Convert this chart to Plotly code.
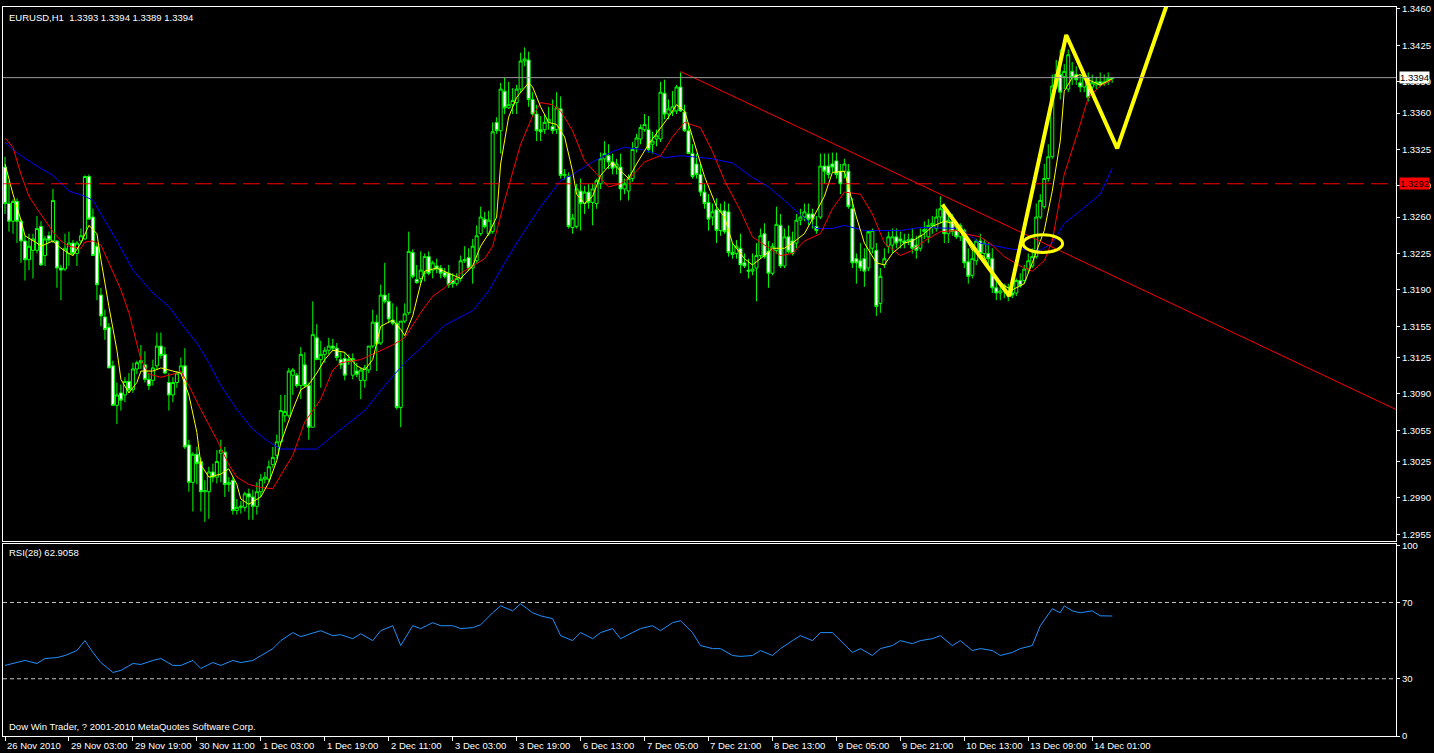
import plotly.graph_objects as go

# ---------------- data ----------------
symbol_title = "EURUSD,H1  1.3393 1.3394 1.3389 1.3394"
rsi_title = "RSI(28) 62.9058"
copyright_text = "Dow Win Trader, ? 2001-2010 MetaQuotes Software Corp."

# hourly candles, prices in points (1/10000)
open_pts = [
13308,13273,13256,13275,13256,13237,13219,13228,13228,13251,
13223,13242,13237,13237,13211,13210,13225,13235,13225,13237,
13239,13299,13260,13232,13185,13164,13154,13117,13079,13091,
13089,13102,13094,13114,13120,13118,13104,13103,13117,13136,
13128,13101,13089,13101,13110,13117,13041,13005,13032,13025,
12996,12996,13015,13010,13033,13034,13003,13007,12978,12981,
12981,12994,12991,12982,12996,13008,13008,13022,13031,13044,
13069,13069,13108,13108,13098,13118,13098,13058,13144,13123,
13128,13132,13136,13134,13123,13124,13123,13108,13112,13103,
13103,13113,13136,13159,13139,13185,13179,13161,13158,13077,
13160,13168,13226,13200,13201,13206,13222,13209,13213,13211,
13207,13206,13199,13196,13201,13218,13221,13211,13218,13244,
13258,13244,13246,13351,13343,13381,13365,13368,13370,13383,
13410,13411,13373,13359,13344,13344,13351,13347,13344,13364,
13300,13299,13250,13251,13285,13273,13284,13274,13273,13292,
13316,13319,13313,13308,13308,13287,13285,13297,13327,13335,
13344,13344,13330,13335,13335,13379,13359,13361,13362,13385,
13361,13343,13321,13311,13301,13284,13274,13260,13267,13247,
13266,13265,13226,13225,13230,13216,13209,13208,13211,13223,
13244,13227,13206,13228,13252,13213,13241,13237,13235,13257,
13260,13263,13263,13251,13260,13309,13309,13311,13314,13304,
13304,13304,13268,13220,13218,13220,13211,13230,13228,13177,
13214,13232,13233,13241,13239,13237,13237,13239,13233,13230,
13246,13241,13252,13249,13260,13268,13244,13256,13247,13241,
13247,13217,13204,13218,13237,13225,13225,13220,13192,13187,
13190,13189,13187,13187,13199,13199,13210,13213,13222,13260,
13270,13297,13318,13385,13397,13395,13383,13400,13397,13389,
13385,13394,13385,13387,13390,13388,13390,13393]
high_pts = [
13318,13295,13277,13278,13258,13242,13244,13244,13261,13256,
13242,13246,13287,13238,13214,13244,13246,13238,13237,13249,
13300,13301,13268,13235,13192,13171,13158,13122,13101,13099,
13106,13110,13120,13122,13137,13131,13110,13123,13149,13149,
13135,13110,13106,13112,13125,13134,13046,13034,13039,13029,
13007,13020,13023,13036,13046,13039,13010,13010,12989,12987,
12996,12999,12998,13005,13013,13015,13026,13039,13051,13089,
13089,13115,13115,13110,13135,13130,13101,13179,13157,13141,
13135,13144,13143,13139,13130,13130,13128,13129,13120,13115,
13118,13136,13171,13166,13195,13216,13187,13177,13174,13160,
13177,13246,13229,13214,13227,13225,13227,13218,13220,13214,
13211,13214,13206,13206,13223,13232,13230,13239,13252,13270,
13265,13266,13351,13356,13389,13394,13390,13384,13387,13418,
13423,13419,13380,13368,13357,13359,13366,13373,13380,13376,
13306,13303,13263,13292,13297,13290,13292,13292,13297,13322,
13333,13330,13321,13316,13321,13297,13301,13332,13340,13349,
13359,13357,13342,13344,13390,13392,13373,13381,13387,13399,
13368,13349,13330,13321,13311,13292,13282,13273,13278,13273,
13275,13273,13235,13238,13244,13225,13220,13225,13235,13249,
13254,13237,13235,13270,13263,13249,13252,13246,13263,13268,
13273,13273,13268,13261,13321,13321,13321,13322,13322,13311,
13316,13311,13278,13225,13235,13230,13244,13249,13235,13211,
13230,13246,13249,13249,13246,13244,13244,13249,13242,13249,
13256,13258,13261,13268,13280,13273,13263,13263,13254,13254,
13249,13230,13235,13239,13244,13239,13235,13230,13201,13199,
13196,13196,13192,13201,13206,13214,13225,13230,13273,13282,
13311,13330,13397,13411,13421,13407,13421,13409,13405,13397,
13399,13399,13397,13395,13399,13397,13399,13394]
low_pts = [
13263,13246,13244,13235,13216,13199,13209,13201,13225,13213,
13213,13235,13235,13192,13180,13208,13213,13223,13213,13235,
13238,13258,13223,13180,13155,13142,13115,13079,13061,13074,
13082,13091,13091,13109,13114,13101,13094,13098,13113,13124,
13109,13074,13082,13096,13109,13037,12996,12977,13003,12977,
12967,12970,13005,13004,13005,12991,12996,12974,12974,12975,
12977,12969,12969,12974,12991,13004,13005,13019,13028,13042,
13063,13067,13089,13096,13085,13096,13046,13058,13123,13096,
13120,13128,13131,13122,13114,13103,13118,13104,13106,13085,
13096,13110,13134,13112,13137,13177,13158,13156,13075,13058,
13158,13166,13201,13196,13196,13198,13204,13201,13206,13201,
13201,13192,13192,13194,13198,13216,13208,13196,13216,13242,
13249,13242,13244,13340,13321,13359,13364,13359,13359,13380,
13405,13366,13357,13333,13333,13340,13344,13340,13340,13297,
13296,13249,13244,13249,13247,13263,13268,13252,13268,13287,
13306,13306,13301,13301,13276,13282,13276,13294,13322,13330,
13342,13322,13321,13328,13332,13354,13354,13357,13359,13361,
13342,13321,13297,13297,13280,13268,13247,13252,13235,13242,
13244,13222,13220,13220,13206,13211,13201,13204,13179,13220,
13220,13192,13204,13225,13211,13211,13225,13223,13230,13252,
13256,13252,13249,13244,13258,13292,13297,13303,13297,13282,
13297,13268,13211,13196,13208,13193,13208,13225,13165,13168,
13211,13225,13225,13230,13230,13230,13233,13225,13220,13227,
13239,13235,13244,13246,13254,13235,13235,13242,13239,13237,
13211,13196,13201,13214,13220,13216,13214,13187,13180,13180,
13182,13179,13182,13184,13192,13196,13206,13211,13220,13258,
13268,13294,13316,13383,13373,13383,13380,13387,13387,13380,
13380,13371,13380,13383,13385,13386,13387,13389]
close_pts = [
13273,13256,13275,13256,13237,13219,13232,13239,13249,13214,
13239,13238,13276,13211,13209,13230,13235,13225,13235,13242,
13299,13258,13223,13195,13165,13152,13115,13079,13089,13084,
13102,13094,13114,13120,13122,13104,13098,13115,13136,13127,
13110,13089,13101,13110,13117,13039,13005,13032,13023,12996,
12997,13015,13010,13025,13036,13003,13005,12978,12981,12982,
12994,12991,12982,12996,13008,13010,13020,13029,13044,13074,
13073,13112,13113,13098,13128,13098,13058,13147,13123,13128,
13132,13136,13134,13125,13118,13108,13121,13124,13109,13113,
13115,13136,13159,13138,13185,13179,13162,13158,13077,13160,
13167,13227,13203,13197,13209,13222,13206,13216,13210,13206,
13203,13195,13196,13201,13218,13219,13211,13232,13242,13260,
13251,13257,13342,13343,13383,13365,13368,13372,13383,13410,
13412,13373,13359,13343,13342,13351,13354,13343,13365,13300,
13301,13251,13259,13287,13273,13284,13274,13287,13295,13316,
13321,13313,13307,13311,13287,13292,13297,13325,13336,13346,
13349,13325,13333,13338,13380,13359,13364,13366,13385,13362,
13343,13321,13299,13301,13284,13273,13258,13265,13247,13266,
13246,13226,13224,13232,13214,13213,13208,13210,13223,13242,
13222,13206,13232,13253,13213,13241,13227,13225,13257,13260,
13265,13258,13258,13247,13309,13304,13301,13308,13301,13292,
13311,13270,13216,13216,13211,13208,13246,13247,13174,13203,
13220,13241,13241,13235,13237,13235,13238,13230,13228,13242,
13248,13252,13254,13260,13268,13244,13257,13246,13241,13252,
13216,13203,13220,13237,13225,13235,13220,13192,13187,13189,
13194,13185,13185,13199,13194,13210,13218,13222,13260,13276,
13297,13318,13386,13397,13380,13400,13416,13394,13392,13385,
13394,13375,13389,13390,13387,13390,13393,13394]

# moving averages: (bar index, price in points)
ma_fast_bar = [0,2,4,5,8,9,12,14,16,17,19,21,23,24,26,28,29,31,33,34,37,39,42,44,46,48,49,51,54,56,58,59,61,64,66,68,69,72,74,76,78,80,82,85,88,90,92,94,97,99,100,102,104,105,108,112,114,117,119,121,123,124,126,128,131,132,134,136,138,140,142,143,145,147,149,152,153,156,158,161,163,166,168,170,172,175,178,180,182,185,187,190,192,195,197,200,202,205,207,210,213,215,218,220,222,225,227,230,232,235,237,240,242,245,247,250,252,255,257,260,262,264,265,267,269,271,274,277]
ma_fast_pts = [13311,13282,13257,13242,13235,13232,13237,13230,13225,13223,13235,13252,13244,13219,13174,13132,13104,13091,13101,13112,13112,13115,13112,13110,13089,13053,13022,13010,13013,13018,13003,12989,12984,12991,13005,13026,13043,13075,13094,13099,13110,13123,13132,13130,13117,13113,13123,13155,13161,13152,13146,13165,13196,13208,13211,13204,13201,13213,13232,13244,13260,13311,13356,13375,13389,13385,13366,13351,13349,13337,13304,13282,13273,13280,13300,13313,13308,13297,13311,13330,13340,13356,13368,13362,13337,13299,13270,13260,13235,13220,13214,13223,13230,13230,13235,13244,13258,13280,13303,13304,13260,13235,13216,13214,13225,13235,13237,13244,13251,13256,13254,13241,13228,13222,13206,13194,13190,13196,13216,13247,13285,13333,13381,13394,13397,13392,13387,13393]
ma_mid_bar = [0,2,4,6,8,12,14,16,19,20,22,24,26,29,31,34,36,39,43,44,46,49,53,56,58,61,64,67,69,72,75,79,82,84,89,92,97,100,104,107,110,114,117,120,122,125,129,132,134,137,139,142,145,149,151,154,157,160,164,167,170,174,177,180,184,187,190,194,197,200,204,207,210,214,217,220,224,227,230,234,238,240,244,247,250,254,257,260,262,265,269,271,274,277]
ma_mid_pts = [13336,13327,13301,13280,13268,13246,13237,13232,13230,13236,13237,13233,13216,13190,13168,13123,13109,13106,13110,13112,13098,13075,13046,13022,13010,13003,13000,12999,13012,13031,13063,13085,13113,13120,13123,13128,13137,13144,13168,13184,13192,13206,13213,13220,13232,13276,13330,13357,13370,13368,13362,13343,13314,13297,13289,13292,13300,13313,13319,13337,13351,13346,13323,13295,13266,13241,13233,13223,13225,13237,13244,13268,13284,13282,13263,13235,13223,13228,13237,13246,13247,13244,13241,13233,13222,13213,13208,13218,13237,13301,13349,13375,13386,13392]
ma_slow_bar = [0,2,4,8,12,16,20,22,24,28,32,37,41,44,48,51,54,58,62,66,69,72,78,83,90,95,100,104,110,117,121,125,129,134,138,139,142,147,152,155,159,162,165,169,172,177,182,187,191,195,199,203,207,210,215,224,229,239,244,252,259,262,265,269,274,277]
ma_slow_pts = [13332,13325,13319,13309,13300,13285,13280,13276,13263,13237,13209,13187,13174,13158,13139,13120,13098,13075,13056,13044,13037,13037,13037,13053,13074,13098,13120,13134,13156,13170,13189,13216,13241,13270,13290,13295,13301,13313,13323,13327,13325,13322,13317,13319,13318,13316,13312,13298,13289,13276,13262,13249,13249,13252,13247,13247,13250,13249,13235,13229,13228,13235,13254,13266,13282,13307]

# RSI(28)
rsi_bar = [0,3,5,8,10,13,15,18,20,22,24,27,29,32,34,37,39,42,44,47,49,52,54,57,59,62,64,67,69,72,
           74,77,79,82,84,87,89,92,94,97,99,102,104,107,109,112,114,117,119,122,124,127,129,132,134,137,139,142,144,147,
           149,152,154,157,159,162,164,167,169,172,174,177,179,182,184,187,189,192,194,197,199,202,204,207,209,212,214,217,219,222,
           224,227,229,232,234,237,239,242,244,247,249,252,254,257,259,262,264,265,267,269,272,274,277]
rsi_val = [37.0,38.5,39.6,38.0,40.6,41.1,42.2,44.8,50.0,43.8,38.5,33.3,34.4,38.0,37.5,39.6,40.6,37.0,37.0,39.6,
           35.4,38.5,37.0,39.6,38.5,39.6,42.2,45.8,50.0,54.2,52.1,54.2,55.2,52.6,53.1,51.0,53.6,50.0,55.2,57.8,
           47.4,57.8,56.3,59.4,57.8,57.8,56.3,56.8,58.3,64.6,68.2,65.6,69.3,64.6,63.0,61.5,52.6,50.0,54.2,51.0,
           54.2,56.3,51.0,54.2,56.3,57.8,55.2,59.4,60.4,54.2,47.4,45.8,45.8,42.2,41.7,42.2,44.8,42.2,45.8,50.0,
           52.6,50.0,54.2,54.2,50.0,43.8,45.8,42.2,45.8,47.4,50.0,48.4,50.0,51.0,52.6,47.4,50.0,44.8,45.8,44.8,
           42.2,43.8,45.8,47.4,57.8,66.7,64.6,68.2,65.6,64.6,65.6,63.0,62.9]
rsi_levels = [30, 70]

# drawn objects
bid_price = 1.3394
level_price = 1.3292
trend_bar = [169, 348]
trend_price = [1.3400, 1.3075]
zigzag_bar = [234.5, 251.25, 265.5, 278.25, 294]
zigzag_price = [1.3272, 1.3184, 1.3435, 1.3326, 1.3501]
ellipse_bar = [254.7, 264.6]
ellipse_price = [1.3226, 1.3243]

# axes
time_tick_bar = [0,16,32,48,64,80,96,112,128,144,160,176,192,208,224,240,256,272]
time_tick_text = ["26 Nov 2010","29 Nov 03:00","29 Nov 19:00","30 Nov 11:00","1 Dec 03:00",
                  "1 Dec 19:00","2 Dec 11:00","3 Dec 03:00","3 Dec 19:00","6 Dec 13:00",
                  "7 Dec 05:00","7 Dec 21:00","8 Dec 13:00","9 Dec 05:00","9 Dec 21:00",
                  "10 Dec 13:00","13 Dec 09:00","14 Dec 01:00"]
price_ticks = [1.3460,1.3425,1.3390,1.3360,1.3325,1.3290,1.3260,1.3225,1.3190,1.3155,
               1.3125,1.3090,1.3055,1.3025,1.2990,1.2955]
rsi_ticks = [0, 30, 70, 100]

# ---------------- figure ----------------
P = lambda a: [v / 10000 for v in a]
bars = list(range(len(open_pts)))

FONT = "Liberation Sans"
FS = 9.5
WHITE = "#FFFFFF"

fig = go.Figure()

fig.add_trace(go.Candlestick(
    x=bars, open=P(open_pts), high=P(high_pts), low=P(low_pts), close=P(close_pts),
    increasing=dict(line=dict(color="#00FF00", width=1), fillcolor="#000000"),
    decreasing=dict(line=dict(color="#00FF00", width=1), fillcolor="#FFFFFF"),
    whiskerwidth=0, xaxis="x", yaxis="y", showlegend=False, hoverinfo="skip"))

fig.add_trace(go.Scatter(x=ma_slow_bar, y=P(ma_slow_pts), mode="lines",
                         line=dict(color="#0000FF", width=1), xaxis="x", yaxis="y",
                         showlegend=False, hoverinfo="skip"))
fig.add_trace(go.Scatter(x=ma_mid_bar, y=P(ma_mid_pts), mode="lines",
                         line=dict(color="#FF0000", width=1), xaxis="x", yaxis="y",
                         showlegend=False, hoverinfo="skip"))
fig.add_trace(go.Scatter(x=ma_fast_bar, y=P(ma_fast_pts), mode="lines",
                         line=dict(color="#FFFF00", width=1), xaxis="x", yaxis="y",
                         showlegend=False, hoverinfo="skip"))
fig.add_trace(go.Scatter(x=trend_bar, y=trend_price, mode="lines",
                         line=dict(color="#FF0000", width=1), xaxis="x", yaxis="y",
                         showlegend=False, hoverinfo="skip"))
fig.add_trace(go.Scatter(x=zigzag_bar, y=zigzag_price, mode="lines",
                         line=dict(color="#FFFF00", width=4), xaxis="x", yaxis="y",
                         showlegend=False, hoverinfo="skip"))

fig.add_trace(go.Scatter(x=rsi_bar, y=rsi_val, mode="lines",
                         line=dict(color="#1E90FF", width=1), xaxis="x2", yaxis="y2",
                         showlegend=False, hoverinfo="skip"))

shapes = [
    dict(type="line", xref="paper", x0=0, x1=1, yref="y", y0=bid_price, y1=bid_price,
         line=dict(color="#9A9A9A", width=1), layer="above"),
    dict(type="line", xref="paper", x0=0, x1=1, yref="y", y0=level_price, y1=level_price,
         line=dict(color="#FF0000", width=1, dash="17px,7px"), layer="above"),
    dict(type="circle", xref="x", yref="y", x0=ellipse_bar[0], x1=ellipse_bar[1],
         y0=ellipse_price[0], y1=ellipse_price[1], line=dict(color="#FFFF00", width=3)),
]
for lv in rsi_levels:
    shapes.append(dict(type="line", xref="paper", x0=0, x1=1, yref="y2", y0=lv, y1=lv,
                       line=dict(color="#C8C8C8", width=1, dash="4px,3px"), layer="below"))

annotations = [
    dict(text=symbol_title, xref="paper", yref="paper", x=0, y=1, xanchor="left", yanchor="top",
         xshift=4, yshift=-3, showarrow=False, font=dict(family=FONT, size=FS, color=WHITE)),
    dict(text=rsi_title, xref="paper", yref="paper", x=0, y=0.263, xanchor="left", yanchor="top",
         xshift=4, yshift=-1, showarrow=False, font=dict(family=FONT, size=FS, color=WHITE)),
    dict(text=copyright_text, xref="paper", yref="paper", x=0, y=0, xanchor="left", yanchor="bottom",
         xshift=4, yshift=2, showarrow=False, font=dict(family=FONT, size=FS, color=WHITE)),
    dict(text=f"{bid_price:.4f}", xref="paper", yref="y", x=1, y=bid_price, xanchor="left",
         yanchor="middle", xshift=3, showarrow=False, bgcolor="#FFFFFF", borderpad=0,
         font=dict(family=FONT, size=FS, color="#000000")),
    dict(text=f"{level_price:.4f}", xref="paper", yref="y", x=1, y=level_price, xanchor="left",
         yanchor="middle", xshift=3, showarrow=False, bgcolor="#FF0000", borderpad=0,
         font=dict(family=FONT, size=FS, color="#000000")),
]
for b, t in zip(time_tick_bar, time_tick_text):
    annotations.append(dict(text=t, xref="x2", yref="paper", x=b, y=0, xanchor="left",
                            yanchor="top", xshift=0, yshift=-2, showarrow=False,
                            font=dict(family=FONT, size=FS, color=WHITE)))

axis_common = dict(showgrid=False, zeroline=False, showline=True, linecolor=WHITE,
                   linewidth=1, mirror=True, fixedrange=True)

fig.update_layout(
    width=1434, height=753,
    margin=dict(l=2, r=38, t=2, b=17),
    paper_bgcolor="#000000", plot_bgcolor="#000000",
    boxgap=0.2, boxgroupgap=0.05,
    showlegend=False,
    shapes=shapes, annotations=annotations,
    xaxis=dict(domain=[0, 1], range=[-0.5, 348], anchor="y", showticklabels=False,
               ticks="", rangeslider=dict(visible=False), **axis_common),
    xaxis2=dict(domain=[0, 1], range=[-0.5, 348], anchor="y2", matches="x",
                tickmode="array", tickvals=time_tick_bar, ticktext=[""] * len(time_tick_bar),
                ticks="outside", ticklen=4, tickcolor=WHITE, showticklabels=False,
                **axis_common),
    yaxis=dict(domain=[0.267, 1], range=[1.29483, 1.34619], anchor="x", side="right",
               tickmode="array", tickvals=price_ticks, ticktext=[f"{v:.4f}" for v in price_ticks],
               ticks="outside", ticklen=3, tickcolor=WHITE,
               tickfont=dict(family=FONT, size=FS, color=WHITE), **axis_common),
    yaxis2=dict(domain=[0, 0.263], range=[0, 100.5], anchor="x2", side="right",
                tickmode="array", tickvals=rsi_ticks, ticktext=[str(v) for v in rsi_ticks],
                ticks="outside", ticklen=3, tickcolor=WHITE,
                tickfont=dict(family=FONT, size=FS, color=WHITE), **axis_common),
)

fig.write_html("out.html", config={"displayModeBar": False},
               post_script="document.body.style.margin='0px';document.body.style.overflow='hidden';")
